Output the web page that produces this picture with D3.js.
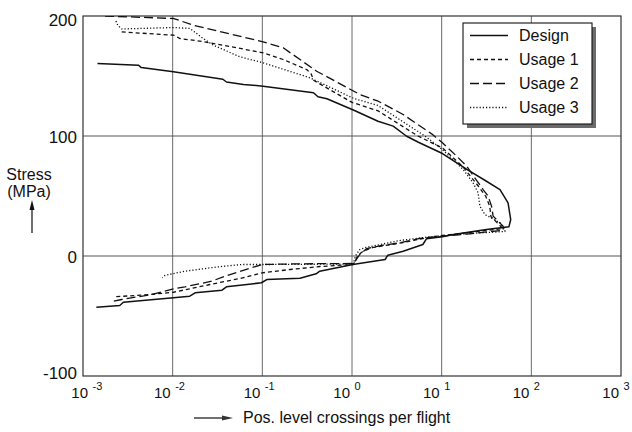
<!DOCTYPE html>
<html>
<head>
<meta charset="utf-8">
<script src="https://cdn.jsdelivr.net/npm/d3@7"></script>
<style>
  body { margin: 0; background: #fff; }
  svg { display: block; }
  text { font-family: "Liberation Sans", Arial, Helvetica, sans-serif; fill: #111; }
</style>
</head>
<body>
<svg id="chart"></svg>
<script>
// [stress (MPa), positive level crossings per flight]
const design = [
  [160.4, 1.45e-3], [159, 4.17e-3], [157, 4.47e-3], [153.5, 1.02e-2], [147.3, 3.63e-2],
  [145, 3.98e-2], [143, 6.17e-2], [141.5, 0.102], [136, 0.372], [132.7, 0.417],
  [131, 0.525], [121.5, 1.05], [112.3, 1.95], [108.2, 2.88], [99.8, 4.07],
  [94.8, 5.50], [85.4, 10.2], [72.1, 19.1], [62.3, 31.6], [55.4, 44.7],
  [44.3, 55.0], [30.4, 58.9], [24.3, 56.2], [22.1, 31.6], [17.9, 13.5],
  [16, 10.2], [14.3, 6.76], [9.6, 6.17], [4, 3.72], [0.7, 2.51],
  [-2.9, 2.34], [-7.1, 1.02], [-12.7, 0.437], [-14.8, 0.398], [-18.5, 0.263],
  [-19.6, 0.112], [-22.3, 9.77e-2], [-25.7, 3.98e-2], [-28.5, 3.55e-2], [-30.7, 1.78e-2],
  [-33.5, 1.55e-2], [-34.8, 1.02e-2], [-38.5, 2.82e-3], [-41.25, 2.57e-3], [-42.7, 1.41e-3]
];

const usage1 = [
  [186.7, 2.70e-3], [184, 1.03e-2], [181.2, 1.21e-2], [178.7, 2.18e-2], [174.6, 4.36e-2],
  [169.3, 0.102], [163.75, 0.171], [155.4, 0.312], [152, 0.348], [146.25, 0.376],
  [128, 1.0], [121, 1.95], [100, 5.43], [90, 10.2], [74.6, 17.2],
  [58.75, 25.3], [49.6, 31.1], [41.25, 34.4], [32.9, 35.4], [25.4, 44.6],
  [22.9, 48.1], [19.6, 20.6], [17.1, 10.2], [15.2, 6.79], [11.25, 3.72],
  [7.1, 1.72], [4, 1.33], [0.4, 1.16], [-4.6, 1.08], [-7.1, 1.03],
  [-8.75, 0.439], [-11.25, 0.204], [-14, 0.1], [-18.75, 5.62e-2], [-23.75, 2.61e-2],
  [-30.2, 1.02e-2], [-32.1, 5.58e-3], [-34, 2.28e-3]
];

const usage2 = [
  [200, 1.76e-3], [197.9, 1.03e-2], [192.3, 1.70e-2], [178.5, 0.102], [173.5, 0.171],
  [154, 0.403], [137.3, 1.05], [134.6, 1.22], [129, 1.96], [117.9, 3.72],
  [101.8, 7.73], [94.3, 10.2], [83.2, 14.7], [74.8, 19.0], [65.2, 23.4],
  [55.4, 29.0], [49.8, 33.0], [41.5, 36.0], [33.2, 37.5], [24.8, 48.5],
  [21.5, 48.5], [18.5, 20.6], [16.5, 10.2], [14.6, 5.71], [11, 3.42],
  [9, 2.23], [6.2, 1.46], [1.25, 1.22], [-2.9, 1.12], [-6.25, 1.03],
  [-6.5, 0.262], [-7.1, 0.1], [-9.8, 7.59e-2], [-16.8, 3.83e-2], [-21, 2.72e-2],
  [-25.7, 1.37e-2], [-27.3, 1.02e-2], [-32.1, 5.83e-3], [-36.25, 2.70e-3], [-37.7, 2.18e-3]
];

const usage3 = [
  [195.8, 2.33e-3], [192, 2.45e-3], [189.2, 2.70e-3], [190.4, 1.03e-2], [189.6, 1.56e-2],
  [181.25, 2.19e-2], [175.7, 2.84e-2], [166, 5.62e-2], [161, 0.102], [148.5, 0.340],
  [131.25, 1.05], [125.4, 1.96], [100, 6.50], [88.7, 10.2], [72, 17.4],
  [61, 22.4], [52.7, 25.5], [41.5, 26.7], [34.6, 30.3], [27.7, 44.6],
  [22.1, 50.7], [20.4, 50.7], [18.75, 20.6], [16.8, 10.2], [15.7, 6.79],
  [12.9, 3.42], [7.3, 1.46], [5.4, 1.22], [0.4, 1.10], [-4.6, 1.05],
  [-6.7, 1.0], [-7.1, 0.1], [-7.1, 8.32e-2], [-7.1, 5.89e-2], [-9, 3.22e-2],
  [-12.7, 1.37e-2], [-14.6, 1.02e-2], [-16.25, 8.20e-3], [-18.2, 7.66e-3]
];

const seriesNames = ['Design', 'Usage 1', 'Usage 2', 'Usage 3'];
const xTickExponents = ['-3', '-2', '-1', '0', '1', '2', '3'];
const yTicks = [200, 100, 0, -100];

const width = 632, height = 432;
const margin = { top: 16, right: 11, bottom: 56, left: 83 };

const svg = d3.select('#chart')
  .attr('width', width)
  .attr('height', height);

svg.append('rect')
  .attr('width', width)
  .attr('height', height)
  .attr('fill', '#fff');

const x = d3.scaleLog()
  .domain([1e-3, 1e3])
  .range([margin.left, width - margin.right]);

const y = d3.scaleLinear()
  .domain([-100, 200])
  .range([height - margin.bottom, margin.top]);

// grid
const grid = svg.append('g').attr('id', 'grid');
grid.selectAll('line.v')
  .data(x.ticks().filter(t => Math.abs(Math.log10(t) % 1) < 1e-9 && t > 1e-3 && t < 1e3))
  .enter().append('line')
  .attr('class', 'v')
  .attr('x1', d => x(d)).attr('x2', d => x(d))
  .attr('y1', y(-100)).attr('y2', y(200))
  .attr('stroke', '#6a6a6a')
  .attr('stroke-width', 1);

grid.selectAll('line.h')
  .data([0, 100])
  .enter().append('line')
  .attr('class', 'h')
  .attr('x1', x(1e-3)).attr('x2', x(1e3))
  .attr('y1', d => y(d)).attr('y2', d => y(d))
  .attr('stroke', '#555')
  .attr('stroke-width', 1);

// frame
svg.append('rect')
  .attr('x', x(1e-3))
  .attr('y', y(200))
  .attr('width', x(1e3) - x(1e-3))
  .attr('height', y(-100) - y(200))
  .attr('fill', 'none')
  .attr('stroke', '#333')
  .attr('stroke-width', 1.2);

// curves
svg.append('clipPath').attr('id', 'clip')
  .append('rect')
  .attr('x', x(1e-3)).attr('y', y(200))
  .attr('width', x(1e3) - x(1e-3))
  .attr('height', y(-100) - y(200));

const styles = [
  { dash: null, w: 1.5 },
  { dash: '4,3', w: 1.3 },
  { dash: '9,4', w: 1.3 },
  { dash: '1.2,2', w: 1.3 }
];

const line = d3.line()
  .x(d => x(d[1]))
  .y(d => y(d[0]));

const curves = svg.append('g').attr('id', 'viz').attr('clip-path', 'url(#clip)');
curves.selectAll('path')
  .data([design, usage1, usage2, usage3])
  .enter().append('path')
  .attr('d', line)
  .attr('fill', 'none')
  .attr('stroke', '#111')
  .attr('stroke-width', (d, i) => styles[i].w)
  .attr('stroke-dasharray', (d, i) => styles[i].dash)
  .attr('stroke-linejoin', 'round');

// x tick labels: 10 with superscript exponent
const xLabels = svg.append('g').attr('id', 'x-labels');
xTickExponents.forEach((e, i) => {
  const tx = x(Math.pow(10, +e)) + (i === 0 ? 7 : 0);
  xLabels.append('text')
    .attr('x', tx - 2)
    .attr('y', 398)
    .attr('text-anchor', 'end')
    .attr('font-size', '15px')
    .text('10');
  xLabels.append('text')
    .attr('x', tx + 2.5)
    .attr('y', 390)
    .attr('font-size', '11px')
    .text(e);
});

// y tick labels
svg.append('g').attr('id', 'y-labels')
  .selectAll('text')
  .data(yTicks)
  .enter().append('text')
  .attr('x', 77)
  .attr('y', d => y(d) + (d === 200 ? 10 : d === -100 ? 3 : 6.5))
  .attr('text-anchor', 'end')
  .attr('font-size', '17px')
  .text(d => d);

// y title with arrow
svg.append('text')
  .attr('x', 29).attr('y', 180)
  .attr('text-anchor', 'middle')
  .attr('font-size', '16px')
  .text('Stress');
svg.append('text')
  .attr('x', 29).attr('y', 197)
  .attr('text-anchor', 'middle')
  .attr('font-size', '16px')
  .text('(MPa)');
svg.append('line')
  .attr('x1', 32).attr('x2', 32)
  .attr('y1', 233).attr('y2', 207)
  .attr('stroke', '#111').attr('stroke-width', 1.2);
svg.append('path')
  .attr('d', 'M32,200 L29.5,210 L34.5,210 Z')
  .attr('fill', '#111');

// x title with arrow
svg.append('line')
  .attr('x1', 194).attr('x2', 224)
  .attr('y1', 418).attr('y2', 418)
  .attr('stroke', '#111').attr('stroke-width', 1.2);
svg.append('path')
  .attr('d', 'M233,418 L222,415.5 L222,420.5 Z')
  .attr('fill', '#333');
svg.append('text')
  .attr('x', 243).attr('y', 423)
  .attr('font-size', '16px')
  .text('Pos. level crossings per flight');

// legend
const legendLayer = svg.append('g').attr('id', 'legend');
legendLayer.append('rect')
  .attr('x', 467).attr('y', 27)
  .attr('width', 129).attr('height', 101)
  .attr('fill', '#6b6b6b');
legendLayer.append('rect')
  .attr('x', 463).attr('y', 23)
  .attr('width', 129).attr('height', 101)
  .attr('fill', '#fff')
  .attr('stroke', '#111')
  .attr('stroke-width', 1.1);

seriesNames.forEach((name, i) => {
  const by = 41 + i * 24;
  legendLayer.append('line')
    .attr('x1', 470).attr('x2', 508)
    .attr('y1', by - 5.5).attr('y2', by - 5.5)
    .attr('stroke', '#111')
    .attr('stroke-width', styles[i].w)
    .attr('stroke-dasharray', styles[i].dash);
  legendLayer.append('text')
    .attr('x', 519).attr('y', by)
    .attr('font-size', '16px')
    .text(name);
});
</script>
</body>
</html>
